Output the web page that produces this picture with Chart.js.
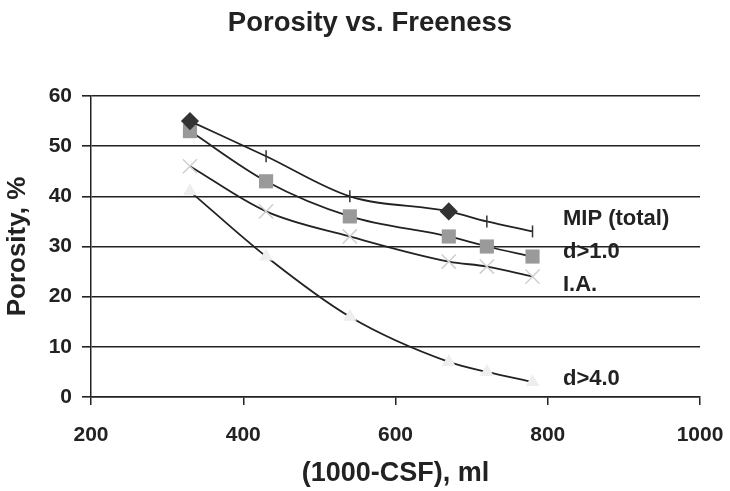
<!DOCTYPE html>
<html>
<head>
<meta charset="utf-8">
<title>Porosity vs. Freeness</title>
<script src="https://cdn.jsdelivr.net/npm/chart.js@4/dist/chart.umd.min.js"></script>
<style>
  html, body { margin: 0; padding: 0; background: #fff; }
  #wrap { width: 730px; height: 491px; }
</style>
</head>
<body>
<div id="wrap"><canvas id="grafico" width="730" height="491"></canvas></div>
<script>
// --- DATOS ---
const freeness = [330, 430, 540, 670, 720, 780];
const mipTotal = [55, 48, 40, 37, 35, 33];
const dOver1 = [53, 43, 36, 32, 30, 28];
const iaValues = [46, 37, 32, 27, 26, 24];
const dOver4 = [41, 28, 16, 7, 5, 3];
const seriesNames = ['MIP (total)', 'd>1.0', 'I.A.', 'd>4.0'];
const xTicks = [200, 400, 600, 800, 1000];
const yTicks = [0, 10, 20, 30, 40, 50, 60];

const FONT = "'Liberation Sans', Arial, sans-serif";
const INK = '#222';

function pts(ys) {
  return freeness.map((x, i) => ({ x: x, y: ys[i] }));
}

// MIP series mixes diamonds and vertical dashes
const mipStyle = ['rectRot', 'line', 'line', 'rectRot', 'line', 'line'];

// title + series labels written at the right of the curves
const textLayer = {
  id: 'textLayer',
  afterDatasetsDraw(chart) {
    const { ctx, scales: { x, y } } = chart;
    const anchors = [34.3, 27.7, 21.1, 2.4];
    ctx.save();
    ctx.fillStyle = INK;
    ctx.textBaseline = 'alphabetic';
    ctx.textAlign = 'center';
    ctx.font = 'bold 27.5px ' + FONT;
    ctx.fillText('Porosity vs. Freeness', 370, 31);
    ctx.font = 'bold 22px ' + FONT;
    ctx.textAlign = 'left';
    seriesNames.forEach((name, i) => {
      ctx.fillText(name, x.getPixelForValue(820), y.getPixelForValue(anchors[i]));
    });
    ctx.restore();
  }
};

const lineBase = {
  borderColor: INK,
  borderWidth: 1.8,
  cubicInterpolationMode: 'monotone',
  fill: false
};

new Chart(document.getElementById('grafico').getContext('2d'), {
  type: 'line',
  data: {
    datasets: [
      Object.assign({}, lineBase, {
        label: seriesNames[0],
        data: pts(mipTotal),
        pointStyle: mipStyle,
        rotation: mipStyle.map(s => s === 'line' ? 90 : 0),
        pointRadius: mipStyle.map(s => s === 'line' ? 6 : 8),
        pointBackgroundColor: '#333',
        pointBorderColor: '#333',
        pointBorderWidth: 1.5
      }),
      Object.assign({}, lineBase, {
        label: seriesNames[1],
        data: pts(dOver1),
        pointStyle: 'rect',
        pointRadius: 10,
        pointBackgroundColor: '#9a9a9a',
        pointBorderColor: '#9a9a9a',
        pointBorderWidth: 0
      }),
      Object.assign({}, lineBase, {
        label: seriesNames[2],
        data: pts(iaValues),
        pointStyle: 'crossRot',
        pointRadius: 10,
        pointBorderColor: '#cfcfcf',
        pointBorderWidth: 1.5
      }),
      Object.assign({}, lineBase, {
        label: seriesNames[3],
        data: pts(dOver4),
        pointStyle: 'triangle',
        pointRadius: 8,
        pointBackgroundColor: '#eeeeee',
        pointBorderColor: '#eeeeee',
        pointBorderWidth: 0
      })
    ]
  },
  options: {
    responsive: false,
    animation: false,
    layout: { padding: { top: 96, left: 0, right: 30, bottom: 0 } },
    plugins: {
      legend: { display: false },
      tooltip: { enabled: false },
      title: { display: false }
    },
    scales: {
      x: {
        type: 'linear',
        min: 200,
        max: 1000,
        afterFit(scale) {
          scale.height = 94;
          scale.paddingLeft = 0;
          scale.paddingRight = 0;
        },
        afterBuildTicks(scale) { scale.ticks = xTicks.map(v => ({ value: v })); },
        ticks: {
          color: INK,
          font: { family: FONT, size: 21, weight: 'bold' },
          padding: 18,
          maxRotation: 0,
          callback: v => String(v)
        },
        grid: { drawOnChartArea: false, drawTicks: true, tickLength: 8, color: INK, lineWidth: 1.5 },
        border: { display: true, color: INK, width: 1.5 },
        title: {
          display: true,
          text: '(1000-CSF), ml',
          color: INK,
          font: { family: FONT, size: 27, weight: 'bold' },
          padding: { top: 0, bottom: 1 }
        }
      },
      y: {
        min: 0,
        max: 60,
        afterFit(scale) {
          scale.width = 91;
          scale.paddingTop = 0;
          scale.paddingBottom = 0;
        },
        afterBuildTicks(scale) { scale.ticks = yTicks.map(v => ({ value: v })); },
        ticks: {
          color: INK,
          font: { family: FONT, size: 21, weight: 'bold' },
          padding: 10
        },
        grid: { drawOnChartArea: true, drawTicks: true, tickLength: 9, color: INK, lineWidth: 1.6 },
        border: { display: true, color: INK, width: 1.5 },
        title: {
          display: true,
          text: 'Porosity, %',
          color: INK,
          font: { family: FONT, size: 26, weight: 'bold' },
          padding: { top: 2, bottom: 0 }
        }
      }
    }
  },
  plugins: [textLayer]
});
</script>
</body>
</html>
